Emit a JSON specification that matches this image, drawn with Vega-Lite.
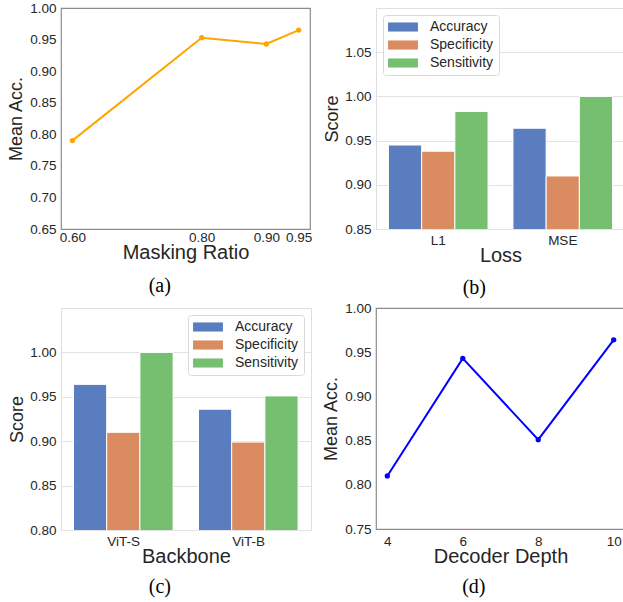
{
  "$schema": "https://vega.github.io/schema/vega-lite/v6.json",
  "padding": {"left": 7, "top": 0, "right": 0, "bottom": 0},
  "background": "white",
  "config": {
    "font": "Liberation Sans",
    "axis": {"labelFont": "Liberation Sans", "labelFontSize": 13.5, "labelColor": "#262626", "titleFont": "Liberation Sans", "titleFontSize": 18, "titleFontWeight": "normal", "titleColor": "#262626", "ticks": false, "domain": false, "labelPadding": 4, "labelFlush": false, "labelOverlap": false},
    "axisX": {"titleFontSize": 20},
    "title": {"font": "Liberation Serif", "fontSize": 20, "fontWeight": "normal", "color": "#000000", "orient": "bottom", "frame": "bounds", "anchor": "middle", "offset": 12},
    "legend": {"labelFont": "Liberation Sans", "labelFontSize": 14, "labelColor": "#262626", "strokeColor": "#d9d9d9", "fillColor": "white", "padding": 5, "cornerRadius": 3, "rowPadding": 4, "symbolType": "M-2.3,-0.7H2.3V0.7H-2.3Z", "symbolSize": 169, "symbolStrokeWidth": 0, "symbolOpacity": 1, "symbolOffset": 8, "labelOffset": 20, "offset": 7}
  },
  "datasets": {
    "mask": [
      {"ratio": 0.6, "acc": 0.79},
      {"ratio": 0.8, "acc": 0.953},
      {"ratio": 0.9, "acc": 0.943},
      {"ratio": 0.95, "acc": 0.965}
    ],
    "loss": [
      {"loss": "L1", "metric": "Accuracy", "score": 0.945},
      {"loss": "L1", "metric": "Specificity", "score": 0.938},
      {"loss": "L1", "metric": "Sensitivity", "score": 0.983},
      {"loss": "MSE", "metric": "Accuracy", "score": 0.964},
      {"loss": "MSE", "metric": "Specificity", "score": 0.910},
      {"loss": "MSE", "metric": "Sensitivity", "score": 1.0}
    ],
    "backbone": [
      {"backbone": "ViT-S", "metric": "Accuracy", "score": 0.964},
      {"backbone": "ViT-S", "metric": "Specificity", "score": 0.910},
      {"backbone": "ViT-S", "metric": "Sensitivity", "score": 1.0},
      {"backbone": "ViT-B", "metric": "Accuracy", "score": 0.936},
      {"backbone": "ViT-B", "metric": "Specificity", "score": 0.899},
      {"backbone": "ViT-B", "metric": "Sensitivity", "score": 0.951}
    ],
    "depth": [
      {"depth": 4, "acc": 0.81},
      {"depth": 6, "acc": 0.943},
      {"depth": 8, "acc": 0.851},
      {"depth": 10, "acc": 0.964}
    ]
  },
  "columns": 2,
  "spacing": {"row": 2, "column": 9},
  "concat": [
    {
      "width": 249, "height": 221,
      "view": {"stroke": "#8c8c8c", "strokeWidth": 1.2},
      "title": {"text": "(a)", "offset": 13},
      "data": {"name": "mask"},
      "encoding": {
        "x": {"field": "ratio", "type": "quantitative", "scale": {"domain": [0.5825, 0.9675], "nice": false, "zero": false}, "axis": {"values": [0.6, 0.8, 0.9, 0.95], "format": ".2f", "grid": false, "title": "Masking Ratio", "titlePadding": -1, "labelPadding": 1}},
        "y": {"field": "acc", "type": "quantitative", "scale": {"domain": [0.65, 1.0], "nice": false, "zero": false}, "axis": {"values": [0.65, 0.7, 0.75, 0.8, 0.85, 0.9, 0.95, 1.0], "format": ".2f", "grid": false, "title": "Mean Acc.", "titlePadding": 4, "labelPadding": 5}}
      },
      "layer": [
        {"mark": {"type": "line", "color": "#FFA500", "strokeWidth": 2}},
        {"mark": {"type": "point", "filled": true, "color": "#FFA500", "size": 28, "opacity": 1}}
      ]
    },
    {
      "width": 249, "height": 221,
      "view": {"stroke": "#dedede", "strokeWidth": 1},
      "title": {"text": "(b)", "offset": 12},
      "data": {"name": "loss"},
      "mark": {"type": "bar", "stroke": "white", "strokeWidth": 1, "clip": true},
      "encoding": {
        "x": {"field": "loss", "type": "nominal", "sort": ["L1", "MSE"], "scale": {"paddingInner": 0.2, "paddingOuter": 0.1}, "axis": {"labelAngle": 0, "title": "Loss", "grid": false, "titlePadding": -1}},
        "xOffset": {"field": "metric", "type": "nominal", "sort": ["Accuracy", "Specificity", "Sensitivity"], "scale": {"paddingInner": 0, "paddingOuter": 0}},
        "y": {"field": "score", "type": "quantitative", "scale": {"domain": [0.85, 1.1], "nice": false, "zero": false}, "axis": {"values": [0.85, 0.9, 0.95, 1.0, 1.05], "format": ".2f", "grid": true, "gridColor": "#e3e3e3", "title": "Score", "titlePadding": 3, "labelPadding": 5}},
        "color": {"field": "metric", "type": "nominal", "sort": ["Accuracy", "Specificity", "Sensitivity"], "scale": {"domain": ["Accuracy", "Specificity", "Sensitivity"], "range": ["#597DBF", "#DA8B5F", "#76BF71"]}, "legend": {"orient": "top-left", "title": null}}
      }
    },
    {
      "width": 250, "height": 222,
      "view": {"stroke": "#dedede", "strokeWidth": 1},
      "title": {"text": "(c)", "offset": 10},
      "data": {"name": "backbone"},
      "mark": {"type": "bar", "stroke": "white", "strokeWidth": 1, "clip": true},
      "encoding": {
        "x": {"field": "backbone", "type": "nominal", "sort": ["ViT-S", "ViT-B"], "scale": {"paddingInner": 0.2, "paddingOuter": 0.1}, "axis": {"labelAngle": 0, "title": "Backbone", "grid": false, "titlePadding": -1}},
        "xOffset": {"field": "metric", "type": "nominal", "sort": ["Accuracy", "Specificity", "Sensitivity"], "scale": {"paddingInner": 0, "paddingOuter": 0}},
        "y": {"field": "score", "type": "quantitative", "scale": {"domain": [0.8, 1.05], "nice": false, "zero": false}, "axis": {"values": [0.8, 0.85, 0.9, 0.95, 1.0], "format": ".2f", "grid": true, "gridColor": "#e3e3e3", "title": "Score", "titlePadding": 3, "labelPadding": 5}},
        "color": {"field": "metric", "type": "nominal", "sort": ["Accuracy", "Specificity", "Sensitivity"], "scale": {"domain": ["Accuracy", "Specificity", "Sensitivity"], "range": ["#597DBF", "#DA8B5F", "#76BF71"]}, "legend": {"orient": "top-right", "title": null}}
      }
    },
    {
      "width": 249, "height": 221,
      "view": {"stroke": "#8c8c8c", "strokeWidth": 1.2},
      "title": {"text": "(d)", "offset": 10},
      "data": {"name": "depth"},
      "encoding": {
        "x": {"field": "depth", "type": "quantitative", "scale": {"domain": [3.7, 10.3], "nice": false, "zero": false}, "axis": {"values": [4, 6, 8, 10], "format": "d", "grid": false, "title": "Decoder Depth", "titlePadding": -1, "labelPadding": 5}},
        "y": {"field": "acc", "type": "quantitative", "scale": {"domain": [0.75, 1.0], "nice": false, "zero": false}, "axis": {"values": [0.75, 0.8, 0.85, 0.9, 0.95, 1.0], "format": ".2f", "grid": false, "title": "Mean Acc.", "titlePadding": 4, "labelPadding": 5}}
      },
      "layer": [
        {"mark": {"type": "line", "color": "#0000FF", "strokeWidth": 2}},
        {"mark": {"type": "point", "filled": true, "color": "#0000FF", "size": 28, "opacity": 1}}
      ]
    }
  ]
}
